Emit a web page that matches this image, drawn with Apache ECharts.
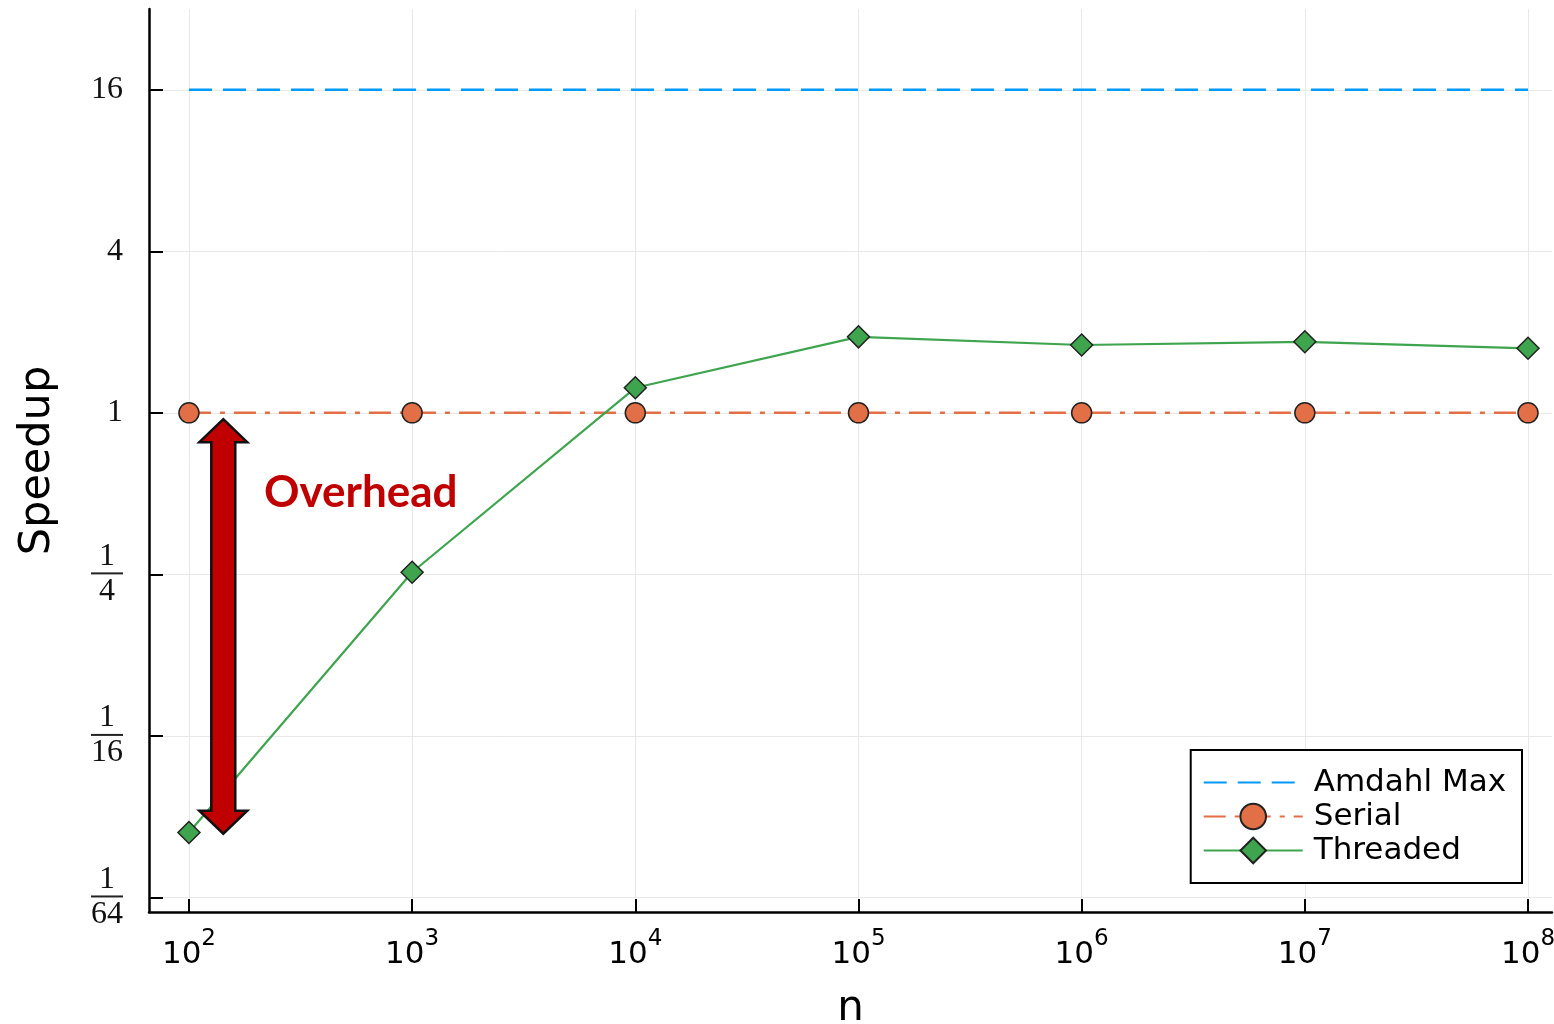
<!DOCTYPE html>
<html><head><meta charset="utf-8">
<script src="https://cdn.jsdelivr.net/npm/echarts@6/dist/echarts.min.js"></script>
<style>html,body{margin:0;padding:0;background:#fff}#c{width:1554px;height:1024px}</style>
</head><body><div id="c"></div>
<script>
// ---- data ----
const nValues = [1e2, 1e3, 1e4, 1e5, 1e6, 1e7, 1e8];
const amdahlMax = [16, 16, 16, 16, 16, 16, 16];
const serial = [1, 1, 1, 1, 1, 1, 1];
const threaded = [0.0273, 0.2546, 1.24, 1.92, 1.79, 1.84, 1.74];
const yTickValues = [1/64, 1/16, 1/4, 1, 4, 16];
const yTickNum = ['1', '1', '1', '1', '4', '16'];
const yTickDen = ['64', '16', '4', '', '', ''];
const xTickValues = [1e2, 1e3, 1e4, 1e5, 1e6, 1e7, 1e8];
const xTickExp = ['2', '3', '4', '5', '6', '7', '8'];
const seriesNames = ['Amdahl Max', 'Serial', 'Threaded'];
const arrowData = [[142.5, 0.947, 0.027]];      // x, top y, bottom y
const noteData = [[216.8, 0.503, 'Overhead']];  // x, y, text

const pairs = (ys) => nValues.map((x, i) => [x, ys[i]]);

const chart = echarts.init(document.getElementById('c'), null, {renderer: 'canvas'});
const sans = 'DejaVu Sans';
const serif = 'Liberation Serif';

const option = {
  animation: false,
  backgroundColor: '#fff',
  grid: {left: 149, top: 9, right: 2, bottom: 112, containLabel: false, outerBoundsMode: 'none'},
  xAxis: {
    type: 'log', logBase: 10,
    min: Math.pow(10, 1.821), max: Math.pow(10, 8.1075),
    name: 'n', nameLocation: 'middle', nameGap: 76,
    nameTextStyle: {fontFamily: sans, fontSize: 42, color: '#000'},
    axisLine: {show: true, onZero: false, lineStyle: {color: '#000', width: 2.5}},
    axisTick: {show: true, inside: true, length: 13, lineStyle: {color: '#000', width: 2}, customValues: xTickValues},
    splitLine: {show: true, lineStyle: {color: '#e8e8e8', width: 1}},
    axisLabel: {
      customValues: xTickValues,
      margin: 16,
      formatter: (v) => {
        const i = xTickValues.findIndex(t => Math.abs(Math.log10(t) - Math.log10(v)) < 1e-6);
        return '{b|10}{s|' + (i >= 0 ? xTickExp[i] : '') + '}';
      },
      rich: {
        b: {fontFamily: sans, fontSize: 31, color: '#000', verticalAlign: 'bottom', lineHeight: 42},
        s: {fontFamily: sans, fontSize: 23, color: '#000', verticalAlign: 'top', lineHeight: 42}
      }
    }
  },
  yAxis: {
    type: 'log', logBase: 2,
    min: Math.pow(2, -6.18), max: Math.pow(2, 5.0),
    name: 'Speedup', nameLocation: 'middle', nameGap: 90,
    nameTextStyle: {fontFamily: sans, fontSize: 43, color: '#000'},
    axisLine: {show: true, lineStyle: {color: '#000', width: 2.5}},
    axisTick: {show: true, inside: true, length: 14, lineStyle: {color: '#000', width: 2}, customValues: yTickValues},
    splitLine: {show: true, lineStyle: {color: '#e8e8e8', width: 1}},
    axisLabel: {
      customValues: yTickValues,
      margin: 26,
      formatter: (v) => {
        const i = yTickValues.findIndex(t => Math.abs(Math.log2(t) - Math.log2(v)) < 1e-6);
        if (i < 0) return '';
        if (yTickDen[i]) return '{n|' + yTickNum[i] + '}\n{bar| }\n{d|' + yTickDen[i] + '}';
        return '{i|' + yTickNum[i] + '}';
      },
      rich: {
        i: {fontFamily: serif, fontSize: 32, color: '#111'},
        n: {fontFamily: serif, fontSize: 32, color: '#111', align: 'center', width: 32, lineHeight: 30},
        bar: {backgroundColor: '#222', height: 2, width: 32, fontSize: 2, lineHeight: 4, align: 'center'},
        d: {fontFamily: serif, fontSize: 32, color: '#111', align: 'center', width: 32, lineHeight: 32}
      }
    }
  },
  legend: {
    data: [
      {name: seriesNames[0], itemStyle: {opacity: 0}},
      {name: seriesNames[1]},
      {name: seriesNames[2]}
    ],
    orient: 'vertical',
    right: 32, bottom: 141,
    backgroundColor: '#fff',
    borderColor: '#000', borderWidth: 2, borderRadius: 0,
    padding: [17, 16, 17, 12],
    itemWidth: 99, itemHeight: 32, itemGap: 3,
    textStyle: {fontFamily: sans, fontSize: 31, color: '#000', padding: [0, 0, 0, 6]}
  },
  series: [
    {
      name: seriesNames[0], type: 'line', data: pairs(amdahlMax),
      symbol: 'none',
      lineStyle: {color: '#009AFA', width: 2.5, type: [23, 11]},
      itemStyle: {color: '#009AFA'}, z: 2
    },
    {
      name: seriesNames[1], type: 'line', data: pairs(serial),
      symbol: 'circle', symbolSize: 20,
      lineStyle: {color: '#E26F46', width: 2.5, type: [22, 9, 5, 9]},
      itemStyle: {color: '#E26F46', borderColor: '#222', borderWidth: 1.5}, z: 3
    },
    {
      name: seriesNames[2], type: 'line', data: pairs(threaded),
      symbol: 'diamond', symbolSize: 22,
      lineStyle: {color: '#3EA44E', width: 2.2},
      itemStyle: {color: '#3EA44E', borderColor: '#222', borderWidth: 1.5}, z: 4
    },
    {
      type: 'custom', name: 'arrow', data: arrowData, z: 10, silent: true,
      encode: {x: 0, y: [1, 2]},
      renderItem: (params, api) => {
        const top = api.coord([api.value(0), api.value(1)]);
        const bot = api.coord([api.value(0), api.value(2)]);
        const cx = top[0], hw = 24, sw = 12, hl = 23;
        const t = top[1], b = bot[1];
        const pts = [[cx, t], [cx + hw, t + hl], [cx + sw, t + hl], [cx + sw, b - hl], [cx + hw, b - hl],
                     [cx, b], [cx - hw, b - hl], [cx - sw, b - hl], [cx - sw, t + hl], [cx - hw, t + hl]];
        return {type: 'polygon', shape: {points: pts}, style: {fill: '#C00000', stroke: '#111', lineWidth: 2.5}};
      }
    },
    {
      type: 'custom', name: 'note', data: noteData, z: 10, silent: true,
      encode: {x: 0, y: 1},
      renderItem: (params, api) => {
        const p = api.coord([api.value(0), api.value(1)]);
        return {type: 'text', x: p[0], y: p[1],
          style: {text: noteData[params.dataIndex][2], fill: '#C00000', font: 'bold 44px Lato',
                  textAlign: 'left', textVerticalAlign: 'middle'}};
      }
    }
  ]
};
chart.setOption(option);
</script>
</body></html>
